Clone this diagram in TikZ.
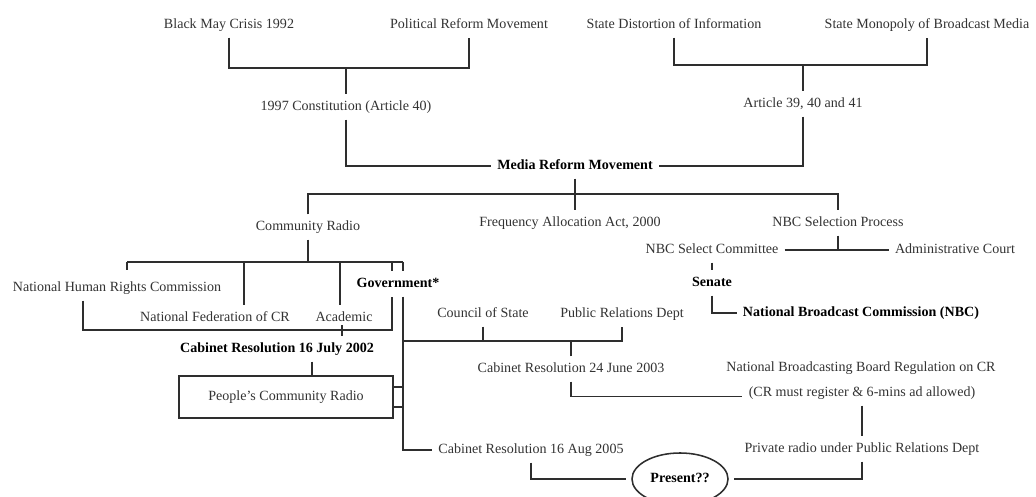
\documentclass[tikz,border=0pt]{standalone}
\usepackage{fontspec}
\setmainfont{Liberation Serif}
\usetikzlibrary{shapes.geometric}
\definecolor{ink}{HTML}{333333}
\definecolor{wire}{HTML}{2E2E2E}
\tikzset{
  link/.style={draw=wire, line width=1.1pt},
  lab/.style={text=ink, inner sep=3pt, outer sep=1.5pt, text height=7pt, text depth=2pt},
  labb/.style={lab, text=black, font=\bfseries},
  boxed/.style={lab, draw=wire, line width=1.1pt, outer sep=0pt, minimum width=5.35cm, minimum height=1.05cm},
  oval/.style={labb, ellipse, draw=wire, line width=1.1pt, outer sep=4pt, inner sep=0pt, minimum width=2.4cm, minimum height=1.3cm}
}

\begin{document}
\begin{tikzpicture}[x=0.025cm, y=-0.025cm]
  \useasboundingbox (0,0) rectangle (1036,497);
  \node[lab] (blackmay) at (229,25) {Black May Crisis 1992};
  \node[lab] (polreform) at (469,25) {Political Reform Movement};
  \node[lab] (distort) at (674,25) {State Distortion of Information};
  \node[lab] (monopoly) at (927,25) {State Monopoly of Broadcast Media};
  \node[lab] (constit) at (346,107) {1997 Constitution (Article 40)};
  \node[lab] (articles) at (803,104) {Article 39, 40 and 41};
  \node[labb] (media) at (575,166) {Media Reform Movement};
  \node[lab] (commradio) at (308,227) {Community Radio};
  \node[lab] (freq) at (570,223) {Frequency Allocation Act, 2000};
  \node[lab] (nbcproc) at (838,223) {NBC Selection Process};
  \node[lab] (nbcsel) at (712,250) {NBC Select Committee};
  \node[lab] (admin) at (955,250) {Administrative Court};
  \node[labb] (senate) at (712,283) {Senate};
  \node[labb] (nbc) at (861,313) {National Broadcast Commission (NBC)};
  \node[lab] (nhrc) at (117,288) {National Human Rights Commission};
  \node[lab] (natfed) at (215,318) {National Federation of CR};
  \node[lab] (academic) at (344,318) {Academic};
  \node[labb] (govt) at (398,284) {Government*};
  \node[labb] (july) at (277,349) {Cabinet Resolution 16 July 2002};
  \node[boxed] (pcr) at (286,397) {People's Community Radio};
  \node[lab] (council) at (483,314) {Council of State};
  \node[lab] (pr) at (622,314) {Public Relations Dept};
  \node[lab] (cab2003) at (571,369) {Cabinet Resolution 24 June 2003};
  \node[lab] (nbbr) at (861,368) {National Broadcasting Board Regulation on CR};
  \node[lab] (cond) at (862,393) {(CR must register \& 6-mins ad allowed)};
  \node[lab] (priv) at (862,449) {Private radio under Public Relations Dept};
  \node[lab] (cab2005) at (531,450) {Cabinet Resolution 16 Aug 2005};
  \node[oval] (present) at (680,479) {Present??};

  \coordinate (jtopL) at (346,68);
  \coordinate (jtopR) at (803,65);
  \coordinate (jmid) at (574,194);
  \coordinate (cNhrc) at (127,262);
  \coordinate (cFed) at (244,262);
  \coordinate (cAcad) at (340,262);
  \coordinate (cGovL) at (392,262);
  \coordinate (cGovR) at (403,262);
  \coordinate (cLoopL) at (83,330);
  \coordinate (cLoopR) at (392,330);
  \coordinate (cJuly) at (342,330);
  \coordinate (cPcr) at (312,376);
  \coordinate (cGovMid) at (403,341);
  \coordinate (cBoxA) at (403,387);
  \coordinate (cBoxB) at (403,407);

  \draw[link] (blackmay.south) |- (jtopL) -| (polreform.south);
  \draw[link] (jtopL) -- (constit.north);
  \draw[link] (distort.south) |- (jtopR) -| (monopoly.south);
  \draw[link] (jtopR) -- (articles.north);
  \draw[link] (constit.south) |- (media.west);
  \draw[link] (articles.south) |- (media.east);

  \draw[link] (commradio.north) |- (jmid) -| (nbcproc.north);
  \draw[link] (media.south) -- (media.south |- freq.north);
  \draw[link] (nbcproc.south) -- (nbcproc.south |- nbcsel.east);
  \draw[link] (nbcsel.east) -- (admin.west);
  \draw[link] (nbcsel.south) -- (senate.north);
  \draw[link] (senate.south) |- (nbc.west);

  \draw[link] (commradio.south) -- (commradio.south |- cNhrc);
  \draw[link] (cNhrc) -- (cGovR);
  \draw[link] (cNhrc) -- ++(0,8);
  \draw[link] (cFed) -- (cFed |- natfed.north);
  \draw[link] (cAcad) -- (cAcad |- academic.north);
  \draw[link] (cGovL) -- (cGovL |- govt.north);
  \draw[link] (cGovR) -- (cGovR |- govt.north);
  \draw[link] (cLoopL |- nhrc.south) -- (cLoopL) -- (cLoopR) -- (cLoopR |- govt.south);
  \draw[link] (cJuly) ++(0,-5) -- (cJuly |- july.north);
  \draw[link] (cPcr |- july.south) -- (cPcr);

  \draw[link] (cGovR |- govt.south) -- (cGovR |- cab2005.west) -- (cab2005.west);
  \draw[link] (cGovMid) -| (pr.south);
  \draw[link] (council.south) -- (council.south |- cGovMid);
  \draw[link] (cab2003.north) -- (cab2003.north |- cGovMid);
  \draw[link] (pcr.east |- cBoxA) -- (cBoxA);
  \draw[link] (pcr.east |- cBoxB) -- (cBoxB);

  \draw[link] (cab2003.south) |- (cond.base west);
  \draw[link] (cond.south) -- (priv.north);
  \draw[link] (priv.south) |- (present.east);
  \draw[link] (cab2005.south) |- (present.west);
\end{tikzpicture}
\end{document}
